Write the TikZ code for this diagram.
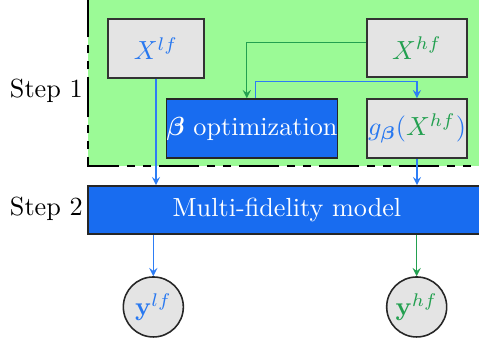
\documentclass[tikz,border=0pt]{standalone}
\usepackage{amsmath}
\usepackage{tikz}
\usetikzlibrary{arrows}

\definecolor{stepgreen}{RGB}{155,250,150}
\definecolor{boxgray}{RGB}{228,228,228}
\definecolor{mfblue}{RGB}{24,108,240}
\definecolor{txtblue}{RGB}{40,120,240}
\definecolor{lnblue}{RGB}{45,125,245}
\definecolor{txtgreen}{RGB}{35,160,80}

\begin{document}
\begin{tikzpicture}[
   graybox/.style={draw=black!80, semithick, fill=boxgray, inner sep=0pt},
   bluebox/.style={draw=black!85, semithick, fill=mfblue, text=white, inner sep=0pt},
   outnode/.style={circle, draw=black!85, semithick, fill=boxgray, minimum size=0.805cm, inner sep=0pt}]
   \path[use as bounding box] (0,0) rectangle (6.426,4.628);
   \clip (0,0) rectangle (6.426,4.628);
   % Step 1 area
   \fill[stepgreen] (1.18,2.401) rectangle (6.962,5.03);
   \draw[thick, dash pattern=on 15.27pt off 3.05pt on 3.05pt off 3.05pt on 3.05pt off 3.05pt]
      (6.962,2.401) -- (1.18,2.401) -- (1.18,5.03);
   \node[anchor=east, inner sep=0pt] (step1) at (1.117,3.407) {Step 1};
   \node[graybox, minimum width=1.288cm, minimum height=0.791cm] (xlf) at (2.093,3.978) {\textcolor{txtblue}{$X^{lf}$}};
   \node[graybox, minimum width=1.342cm, minimum height=0.778cm] (xhf) at (5.594,3.984) {\textcolor{txtgreen}{$X^{hf}$}};
   \node[bluebox, minimum width=2.281cm, minimum height=0.791cm] (beta) at (3.381,2.904) {$\boldsymbol{\beta}$ optimization};
   \node[graybox, minimum width=1.342cm, minimum height=0.791cm] (gx) at (5.594,2.904)
      {\textcolor{txtblue}{$g_{\boldsymbol{\beta}}(\textcolor{txtgreen}{X^{hf}})$}};
   % Step 2
   \node[bluebox, minimum width=5.339cm, minimum height=0.644cm] (mf) at (3.850,1.811) {Multi-fidelity model};
   \node[anchor=east, inner sep=0pt] (step2) at (1.117,1.824) {Step 2};
   % Outputs
   \node[outnode] (ylf) at (2.057,0.510) {\textcolor{txtblue}{$\mathbf{y}^{lf}$}};
   \node[outnode] (yhf) at (5.590,0.510) {\textcolor{txtgreen}{$\mathbf{y}^{hf}$}};
   % Connectors
   \draw[txtgreen,-stealth] ([yshift=2pt]xhf.west) -| ([xshift=-2pt]beta.north);
   \draw[lnblue,-stealth] ([xshift=1.15pt]beta.north) -- ++(0,0.22) -| (gx.north);
   \draw[lnblue,-stealth] (xlf.south) -- (xlf.south |- mf.north);
   \draw[lnblue,-stealth] (gx.south) -- (gx.south |- mf.north);
   \draw[lnblue,-stealth] (ylf.north |- mf.south) -- (ylf.north);
   \draw[txtgreen,-stealth] (yhf.north |- mf.south) -- (yhf.north);
\end{tikzpicture}
\end{document}
